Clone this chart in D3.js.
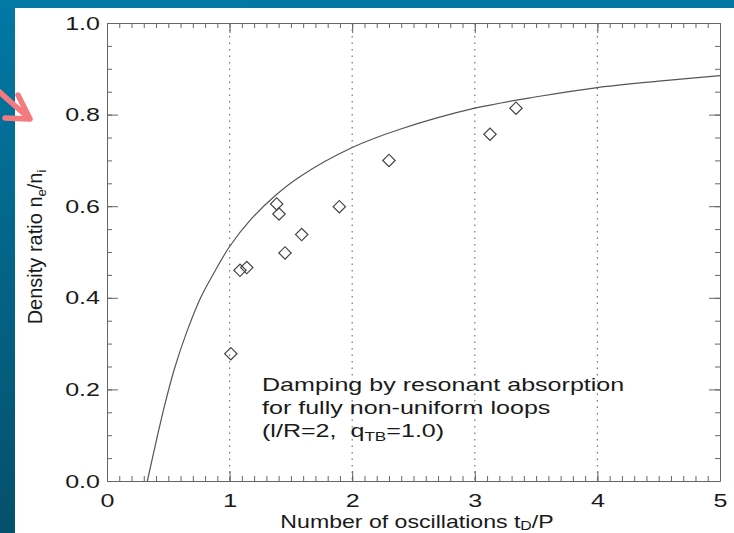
<!DOCTYPE html>
<html>
<head>
<meta charset="utf-8">
<script src="https://cdn.jsdelivr.net/npm/d3@7"></script>
<style>
  body { margin: 0; padding: 0; overflow: hidden; }
  text { font-family: "Liberation Sans", Arial, Helvetica, sans-serif; fill: #1a1a1a; }
</style>
</head>
<body>
<script>
// values
const xTicks = [0, 1, 2, 3, 4, 5];
const yTicks = [0.0, 0.2, 0.4, 0.6, 0.8, 1.0];
const gridX = [1, 2, 3, 4];

// observed loops (diamonds)
const obsX = [1.01, 1.085, 1.14, 1.384, 1.403, 1.452, 1.588, 1.895, 2.30, 3.124, 3.336];
const obsY = [0.278, 0.460, 0.466, 0.605, 0.583, 0.498, 0.538, 0.599, 0.700, 0.757, 0.814];

// model curve, sampled from the plot
const curveX = [0.329, 0.40, 0.47, 0.55, 0.65, 0.76, 0.88, 1.0, 1.17, 1.38, 1.57, 2.0, 2.39, 3.0, 3.53, 4.0, 4.5, 5.0];
const curveY = [0.0, 0.085, 0.165, 0.245, 0.325, 0.398, 0.458, 0.512, 0.570, 0.625, 0.664, 0.728, 0.768, 0.814, 0.840, 0.859, 0.873, 0.885];

const noteLines = ["Damping by resonant absorption", "for fully non-uniform loops"];

// the slide image is stretched sideways
const SX = 1.32;

const W = 734, H = 533;
const margin = {top: 23, right: 14, bottom: 52, left: 107},
    width = W - margin.left - margin.right,
    height = H - margin.top - margin.bottom;

const svg = d3.select("body").append("svg")
    .attr("width", W)
    .attr("height", H);

// slide background
const grad = svg.append("defs").append("linearGradient")
    .attr("id", "bg").attr("x1", 0).attr("y1", 0).attr("x2", 0).attr("y2", 1);
grad.append("stop").attr("offset", "0%").attr("stop-color", "#0278a5");
grad.append("stop").attr("offset", "100%").attr("stop-color", "#05506b");
svg.append("rect").attr("width", W).attr("height", H).attr("fill", "url(#bg)");
svg.append("rect").attr("x", 15).attr("y", 8).attr("width", W - 15).attr("height", H - 8).attr("fill", "#fff");

// pink arrow on the slide
svg.append("path")
    .attr("d", "M-4,89 L30,119 M30,119 L18,95 M30,119 L5,118")
    .attr("fill", "none").attr("stroke", "#f47a80").attr("stroke-width", 5.5)
    .attr("stroke-linecap", "round").attr("stroke-linejoin", "round");

const g = svg.append("g")
    .attr("transform", "translate(" + margin.left + "," + margin.top + ")");

const x = d3.scaleLinear().domain([0, 5]).range([0, width]);
const y = d3.scaleLinear().domain([0, 1]).range([height, 0]);

// dotted verticals
g.selectAll(".grid")
    .data(gridX)
  .enter().append("line")
    .attr("x1", d => x(d)).attr("x2", d => x(d))
    .attr("y1", 0).attr("y2", height)
    .attr("stroke", "#777").attr("stroke-width", 1.2)
    .attr("stroke-dasharray", "1.5,5");

const minorX = d3.range(0, 51).map(i => i / 10);
const minorY = d3.range(0, 21).map(i => i / 20);

function styleAxis(sel) {
  sel.selectAll("path").attr("stroke", "#666");
  sel.selectAll("line").attr("stroke", "#666");
  sel.selectAll("text")
    .style("font-family", "'Liberation Sans', Arial, sans-serif")
    .style("font-size", "19px")
    .attr("fill", "#1a1a1a")
    .attr("transform", "scale(" + SX + ",1)");
}

// bottom
g.append("g").attr("transform", "translate(0," + height + ")")
    .call(d3.axisBottom(x).tickValues(minorX).tickSize(-5).tickSizeOuter(0).tickFormat(""))
    .call(styleAxis);
g.append("g").attr("transform", "translate(0," + height + ")")
    .call(d3.axisBottom(x).tickValues(xTicks).tickSize(-10).tickSizeOuter(0).tickPadding(12.5).tickFormat(d3.format("d")))
    .call(styleAxis)
    .call(a => a.select(".domain").remove());
// top
g.append("g")
    .call(d3.axisTop(x).tickValues(minorX).tickSize(-5).tickSizeOuter(0).tickFormat(""))
    .call(styleAxis);
g.append("g")
    .call(d3.axisTop(x).tickValues(xTicks).tickSize(-10).tickSizeOuter(0).tickFormat(""))
    .call(styleAxis)
    .call(a => a.select(".domain").remove());
// left
g.append("g")
    .call(d3.axisLeft(y).tickValues(minorY).tickSize(-5).tickSizeOuter(0).tickFormat(""))
    .call(styleAxis);
g.append("g")
    .call(d3.axisLeft(y).tickValues(yTicks).tickSize(-11).tickSizeOuter(0).tickPadding(5.3).tickFormat(d3.format(".1f")))
    .call(styleAxis)
    .call(a => a.select(".domain").remove());
// right
g.append("g").attr("transform", "translate(" + width + ",0)")
    .call(d3.axisRight(y).tickValues(minorY).tickSize(-5).tickSizeOuter(0).tickFormat(""))
    .call(styleAxis);
g.append("g").attr("transform", "translate(" + width + ",0)")
    .call(d3.axisRight(y).tickValues(yTicks).tickSize(-11).tickSizeOuter(0).tickFormat(""))
    .call(styleAxis)
    .call(a => a.select(".domain").remove());

// model curve
const curveData = curveX.map((d, i) => [d, curveY[i]]);
g.append("path")
    .datum(curveData)
    .attr("fill", "none")
    .attr("stroke", "#555")
    .attr("stroke-width", 1.2)
    .attr("d", d3.line().x(d => x(d[0])).y(d => y(d[1])).curve(d3.curveCatmullRom.alpha(0.5)));

// diamonds
const obs = obsX.map((d, i) => [d, obsY[i]]);
g.selectAll(".pt")
    .data(obs)
  .enter().append("path")
    .attr("class", "pt")
    .attr("transform", d => "translate(" + x(d[0]) + "," + y(d[1]) + ") rotate(45)")
    .attr("d", d3.symbol(d3.symbolSquare, 76)())
    .attr("fill", "none")
    .attr("stroke", "#444")
    .attr("stroke-width", 1.2);

// annotation
const note = svg.append("text")
    .attr("transform", "translate(262,0) scale(" + SX + ",1)")
    .style("font-size", "19px");
noteLines.forEach((t, i) => {
  note.append("tspan").attr("x", 0).attr("y", 391 + i * 23).text(t);
});
const n3 = note.append("tspan").attr("x", 0).attr("y", 437);
n3.append("tspan").text("(l/R=2,\u00a0\u00a0q");
n3.append("tspan").attr("dy", 4).style("font-size", "13px").text("TB");
n3.append("tspan").attr("dy", -4).text("=1.0)");

// axis titles
const xt = svg.append("text")
    .attr("transform", "translate(417,527.5) scale(" + SX + ",1)")
    .attr("text-anchor", "middle")
    .style("font-size", "17.5px");
xt.append("tspan").text("Number of oscillations t");
xt.append("tspan").attr("dy", 2.5).style("font-size", "12px").text("D");
xt.append("tspan").attr("dy", -2.5).text("/P");

const yt = svg.append("text")
    .attr("transform", "translate(42,247) rotate(-90)")
    .attr("text-anchor", "middle")
    .style("font-size", "20px");
yt.append("tspan").text("Density ratio n");
yt.append("tspan").attr("dy", 4).style("font-size", "13px").text("e");
yt.append("tspan").attr("dy", -4).text("/n");
yt.append("tspan").attr("dy", 4).style("font-size", "13px").text("i");
</script>
</body>
</html>
